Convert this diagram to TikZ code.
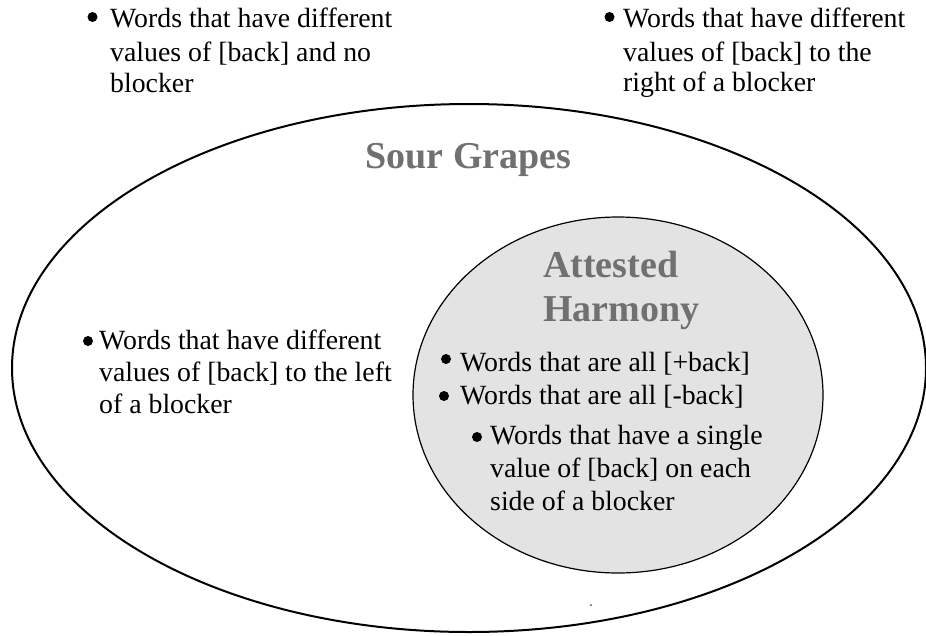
\documentclass[tikz,border=0pt]{standalone}
\usepackage{fontspec}
\setmainfont{Liberation Serif}
\definecolor{titlegray}{HTML}{707070}
\definecolor{innerfill}{HTML}{E3E3E3}
\begin{document}
\begin{tikzpicture}[x=1pt,y=-1pt,
  txt/.style={anchor=base west,inner sep=0pt,font=\fontsize{27.8}{32}\selectfont},
  ttl/.style={inner sep=0pt,text=titlegray,font=\fontsize{38}{44}\selectfont\bfseries},
  dotb/.style={circle,fill=black,inner sep=0pt,minimum size=10pt}]
\useasboundingbox (0,0) rectangle (926,635);
% outer ellipse
\draw[line width=2pt] (469,368) ellipse [x radius=457, y radius=264];
% inner ellipse
\draw[line width=1.2pt, fill=innerfill] (618,395) ellipse [x radius=205, y radius=178];
% titles
\node[ttl,anchor=base] (sour) at (468.5,168) {Sour Grapes};
\node[ttl,anchor=base west] (att1) at (543,277) {Attested};
\node[ttl,anchor=base west] (att2) at (543,321) {Harmony};
% top-left
\node[dotb] (tlb) at (92.5,17) {};
\node[txt] (tl1) at (110,27) {Words that have different};
\node[txt] (tl2) at (110,61) {values of [back] and no};
\node[txt] (tl3) at (110,92) {blocker};
% top-right
\node[dotb] (trb) at (609.5,17) {};
\node[txt] (tr1) at (623,27) {Words that have different};
\node[txt] (tr2) at (623,61) {values of [back] to the};
\node[txt] (tr3) at (623,91) {right of a blocker};
% left middle
\node[dotb] (lmb) at (88,341) {};
\node[txt] (lm1) at (99,349) {Words that have different};
\node[txt] (lm2) at (99,381) {values of [back] to the left};
\node[txt] (lm3) at (99,413) {of a blocker};
% inner items
\node[dotb] (i1b) at (446,359) {};
\node[txt] (i1) at (460,371) {Words that are all [+back]};
\node[dotb] (i2b) at (444,396) {};
\node[txt] (i2) at (460,404) {Words that are all [-back]};
\node[dotb] (i3b) at (477,437) {};
\node[txt] (i31) at (490,444) {Words that have a single};
\node[txt] (i32) at (490,477) {value of [back] on each};
\node[txt] (i33) at (490,510) {side of a blocker};
% tiny dot
\fill[black!70] (591,605) circle (1pt);
\end{tikzpicture}
\end{document}
